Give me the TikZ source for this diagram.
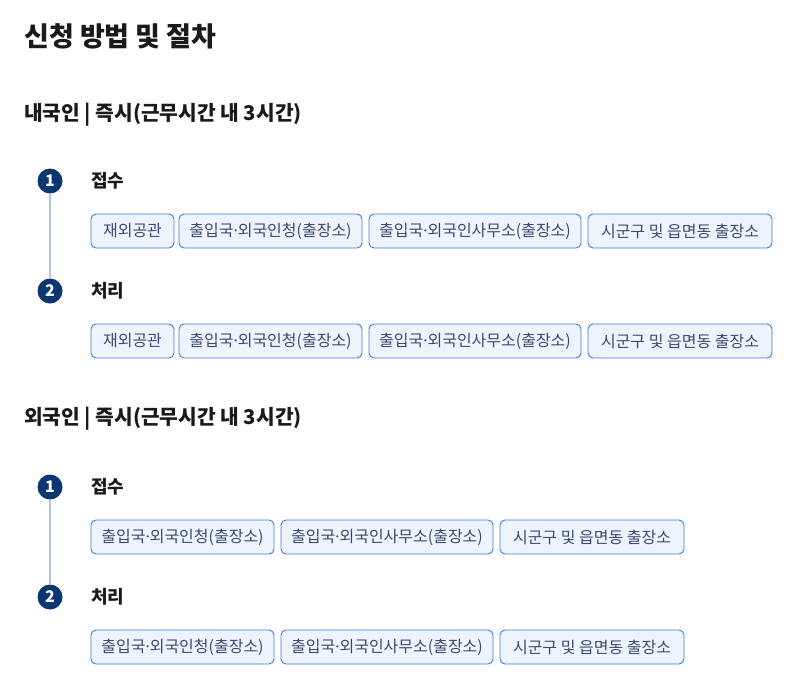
\documentclass[tikz,border=0pt]{standalone}
\usepackage{fontspec}
\setmainfont{Noto Sans CJK KR}
\newfontfamily\latinf{Noto Sans}
\newcommand{\mdot}{{\latinf ·}}
\definecolor{navy}{HTML}{0B3670}
\definecolor{titlec}{HTML}{1A1A1A}
\definecolor{boxfill}{HTML}{EEF4FD}
\definecolor{boxline}{HTML}{3D78E0}
\definecolor{boxtext}{HTML}{3A4A6E}
\definecolor{vline}{HTML}{B5C6DB}
\tikzset{
  title/.style={anchor=west, inner sep=0pt, text=titlec, font=\fontsize{27}{31}\selectfont\bfseries},
  sechead/.style={anchor=west, inner sep=0pt, text=titlec, font=\fontsize{20.3}{24}\selectfont\bfseries},
  stepnum/.style={circle, fill=navy, minimum size=25pt, inner sep=0pt, text=white, font=\fontsize{16}{18}\selectfont\bfseries},
  steplabel/.style={anchor=west, inner sep=0pt, text=titlec, font=\fontsize{18}{21}\selectfont\bfseries},
  tag/.style={draw=boxline, fill=boxfill, rounded corners=5pt, line width=0.9pt, minimum height=34pt, inner sep=0pt, text=boxtext, font=\fontsize{16}{19}\selectfont},
  connector/.style={draw=vline, line width=1.2pt}
}
\begin{document}
\begin{tikzpicture}[x=1pt,y=-1pt]
\useasboundingbox (0,0) rectangle (789,682);
\node[title] (t) at (24,36) {신청 방법 및 절차};
% Section 1
\node[sechead] (h1) at (24,115) {내국인 | 즉시(근무시간 내 3시간)};
\node[stepnum] (a1) at (50,181) {1};
\node[stepnum] (a2) at (50,291) {2};
\draw[connector] (a1) -- (a2);
\node[steplabel] (la1) at (91,181) {접수};
\node[steplabel] (la2) at (91,291) {처리};
\node[tag, minimum width=83pt] (a1b1) at (132.5,231) {재외공관};
\node[tag, minimum width=183pt] (a1b2) at (270.5,231) {출입국\mdot 외국인청(출장소)};
\node[tag, minimum width=212pt] (a1b3) at (475,231) {출입국\mdot 외국인사무소(출장소)};
\node[tag, minimum width=184pt] (a1b4) at (680,231) {시군구 및 읍면동 출장소};
\node[tag, minimum width=83pt] (a2b1) at (132.5,341) {재외공관};
\node[tag, minimum width=183pt] (a2b2) at (270.5,341) {출입국\mdot 외국인청(출장소)};
\node[tag, minimum width=212pt] (a2b3) at (475,341) {출입국\mdot 외국인사무소(출장소)};
\node[tag, minimum width=184pt] (a2b4) at (680,341) {시군구 및 읍면동 출장소};
% Section 2
\node[sechead] (h2) at (24,419) {외국인 | 즉시(근무시간 내 3시간)};
\node[stepnum] (b1) at (50,487) {1};
\node[stepnum] (b2) at (50,597) {2};
\draw[connector] (b1) -- (b2);
\node[steplabel] (lb1) at (91,487) {접수};
\node[steplabel] (lb2) at (91,597) {처리};
\node[tag, minimum width=183pt] (b1b1) at (182.5,537) {출입국\mdot 외국인청(출장소)};
\node[tag, minimum width=212pt] (b1b2) at (387,537) {출입국\mdot 외국인사무소(출장소)};
\node[tag, minimum width=184pt] (b1b3) at (592,537) {시군구 및 읍면동 출장소};
\node[tag, minimum width=183pt] (b2b1) at (182.5,647) {출입국\mdot 외국인청(출장소)};
\node[tag, minimum width=212pt] (b2b2) at (387,647) {출입국\mdot 외국인사무소(출장소)};
\node[tag, minimum width=184pt] (b2b3) at (592,647) {시군구 및 읍면동 출장소};
\end{tikzpicture}
\end{document}
